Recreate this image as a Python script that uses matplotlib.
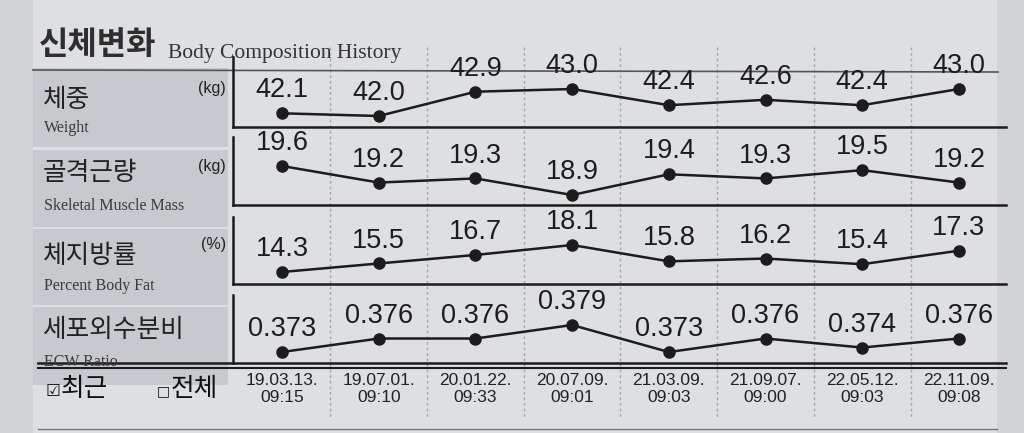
import matplotlib
matplotlib.use("Agg")
import matplotlib.pyplot as plt
from matplotlib.patches import Rectangle
from matplotlib.transforms import blended_transform_factory

# ---- data ----
dates = ["19.03.13.\n09:15", "19.07.01.\n09:10", "20.01.22.\n09:33", "20.07.09.\n09:01",
         "21.03.09.\n09:03", "21.09.07.\n09:00", "22.05.12.\n09:03", "22.11.09.\n09:08"]
weight = [42.1, 42.0, 42.9, 43.0, 42.4, 42.6, 42.4, 43.0]
smm = [19.6, 19.2, 19.3, 18.9, 19.4, 19.3, 19.5, 19.2]
pbf = [14.3, 15.5, 16.7, 18.1, 15.8, 16.2, 15.4, 17.3]
ecw = [0.373, 0.376, 0.376, 0.379, 0.373, 0.376, 0.374, 0.376]
series = [weight, smm, pbf, ecw]
fmts = ["{:.1f}", "{:.1f}", "{:.1f}", "{:.3f}"]
ylims = [(41.593, 44.185), (18.658, 20.301), (12.610, 22.046), (0.37056, 0.38567)]

names_ko = ["체중", "골격근량", "체지방률", "세포외수분비"]
names_en = ["Weight", "Skeletal Muscle Mass", "Percent Body Fat", "ECW Ratio"]
units = ["(kg)", "(kg)", "(%)", ""]

KO = ["Noto Sans CJK KR", "DejaVu Sans"]
SANS = "Liberation Sans"
SERIF = "Liberation Serif"
INK = "#1c1c1c"

W, H = 1024, 433
fig = plt.figure(figsize=(W / 100, H / 100), dpi=100, facecolor="#d1d3d5")
bg = fig.add_axes([0, 0, 1, 1])
bg.set_xlim(0, W); bg.set_ylim(H, 0); bg.axis("off")

# paper + grey label column
bg.add_patch(Rectangle((33, 0), 964, H, color="#dedfe2", lw=0))
label_blocks = [(68, 147), (150, 227), (229, 305), (307, 385)]
for y0, y1 in label_blocks:
    bg.add_patch(Rectangle((33, y0), 195, y1 - y0, color="#c7c9ce", lw=0))

# title
bg.text(39, 45, "신체변화", family=KO, fontsize=23, fontweight="bold", color="#2e2e2e", va="center")
bg.text(168, 58, "Body Composition History", family=SERIF, fontsize=15.5, color="#333333", va="baseline")
bg.plot([33, 998], [70, 72], color="#555555", lw=1.2)

# panel boxes (pixel rows: top, bottom)
rows = [(57, 127), (137, 205), (217, 284), (295, 363)]
x_left, x_right = 233, 1006
axes = []
for k, (top, bot) in enumerate(rows):
    ax = fig.add_axes([x_left / W, 1 - bot / H, (x_right - x_left) / W, (bot - top) / H])
    ax.set_xlim(-0.507, 7.487)
    ax.set_ylim(*ylims[k])
    ax.axis("off")
    ax.patch.set_alpha(0)
    axes.append(ax)

# column dividers, dotted, across the whole table
tr = blended_transform_factory(axes[0].transData, bg.transData)
for i in range(len(dates) - 1):
    bg.plot([i + 0.5, i + 0.5], [47, 418], transform=tr, color="#a6a6a6",
            lw=1.0, ls=(0, (2, 2)), zorder=1)

# bracket frames
for k, (top, bot) in enumerate(rows):
    bg.plot([x_left, x_left], [top, bot], color=INK, lw=1.8, zorder=3)
    if k < 3:
        bg.plot([x_left, x_right], [bot, bot], color=INK, lw=1.8, zorder=3)
bg.plot([38, x_right], [363, 363], color=INK, lw=1.8, zorder=3)
bg.plot([38, x_right], [367.5, 367.5], color=INK, lw=1.5, zorder=3)
bg.plot([38, 997], [429, 429], color="#777777", lw=1.0)

# row labels
ko_y = [100, 173, 256, 330]
en_y = [128, 206, 286, 362]
unit_y = [88, 166, 244]
for k in range(4):
    bg.text(43, ko_y[k], names_ko[k], family=KO, fontsize=18.5, color="#222222", va="center")
    bg.text(44, en_y[k], names_en[k], family=SERIF, fontsize=11.5, color="#3a3a3a", va="center")
    if units[k]:
        bg.text(226, unit_y[k], units[k], family=SANS, fontsize=11.5, color="#222222",
                ha="right", va="center")

# series
x = list(range(len(dates)))
for ax, vals, fmt in zip(axes, series, fmts):
    ax.plot(x, vals, color=INK, lw=1.8, marker="o", ms=8, mfc=INK, mec=INK, clip_on=False)
    for i, v in zip(x, vals):
        ax.annotate(fmt.format(v), (i, v), xytext=(0, 16.5), textcoords="offset points",
                    ha="center", va="center", family=SANS, fontsize=19.5, color=INK)

# dates under the table
for i, d in enumerate(dates):
    bg.text(i, 389, d, transform=tr, family=SANS, fontsize=12.5, color="#222222",
            ha="center", va="center", linespacing=1.2)

# recent / all selector
bg.text(46, 391, "☑", family=["DejaVu Sans"], fontsize=12, color="#111111", va="center")
bg.text(61, 389, "최근", family=KO, fontsize=18.5, color="#111111", va="center")
bg.text(157, 391, "□", family=["DejaVu Sans"], fontsize=10, color="#111111", va="center")
bg.text(171, 389, "전체", family=KO, fontsize=18.5, color="#111111", va="center")

fig.savefig("out.png", dpi=100, facecolor=fig.get_facecolor())
